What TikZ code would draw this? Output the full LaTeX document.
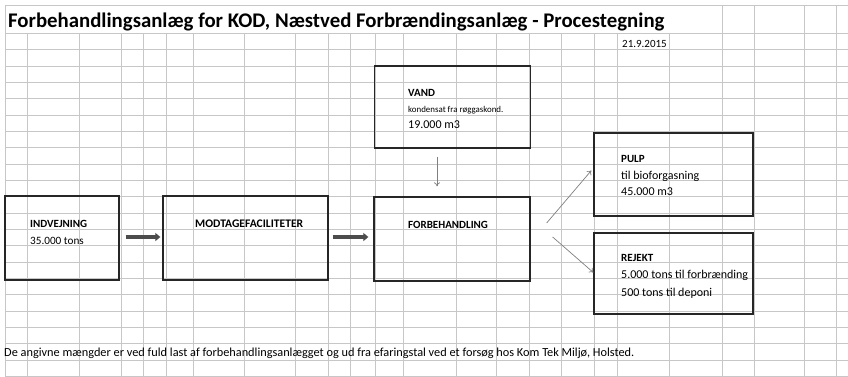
\documentclass[tikz,border=0pt]{standalone}
\usepackage{fontspec}
\setmainfont{Carlito}
\usetikzlibrary{arrows.meta,calc}
\begin{document}
\begin{tikzpicture}[x=1pt,y=-1pt,
  gridline/.style={draw=black!22,line width=0.5pt},
  box/.style={draw=black!85,line width=1.3pt,inner sep=0pt},
  lbl/.style={anchor=base west,inner sep=0pt,font=\fontsize{12}{14}\selectfont},
  blbl/.style={lbl,font=\fontsize{11}{13}\selectfont\bfseries},
  thickarrow/.style={draw=black!70,line width=3.2pt,-{Triangle[length=5pt,width=8pt]}},
  thinarrow/.style={draw=black!50,line width=0.7pt,-{To[length=4pt,width=6pt]}}]
\useasboundingbox (0,0) rectangle (848,376);
\fill[white] (0,0) rectangle (848,376);
% grid rows
\foreach \yy in {5,33,49.5,66,82,98.5,115,131,147.5,164,180,196.5,213,229,245.5,262,278,294.5,311,327,343.5,360,376}
  \draw[gridline] (5,\yy) -- (848,\yy);
% grid columns
\foreach \xx in {27,79,121,143,166,193,244,295,328,350,375,403,456,496,529,561,594,617,669,722,754,804,836}
  \draw[gridline] (\xx,33) -- (\xx,376);
\foreach \xx in {722,754,804,836}
  \draw[gridline] (\xx,5) -- (\xx,33);
\draw[gridline] (5,5) -- (5,376);
% title and date
\node[anchor=base west,inner sep=0pt,font=\fontsize{20.8}{24}\selectfont\bfseries] (title) at (8,27) {Forbehandlingsanlæg for KOD, Næstved Forbrændingsanlæg - Procestegning};
\node[anchor=base west,inner sep=0pt,font=\fontsize{11}{13}\selectfont] (date) at (622,47) {21.9.2015};
% boxes
\node[box,minimum width=114pt,minimum height=84pt] (ind) at (62,238) {};
\node[box,minimum width=165pt,minimum height=84pt] (mod) at (245.5,238) {};
\node[box,minimum width=156pt,minimum height=84pt] (forb) at (452,239) {};
\node[box,minimum width=156pt,minimum height=82pt] (vand) at (452.5,107) {};
\node[box,minimum width=159pt,minimum height=83pt] (pulp) at (673.5,174.5) {};
\node[box,minimum width=159pt,minimum height=81pt] (rej) at (673.5,273.5) {};
% texts
\node[blbl] (t1) at (30,227) {INDVEJNING};
\node[lbl,font=\fontsize{11.2}{13}\selectfont] (t2) at (30,244) {35.000 tons};
\node[blbl,font=\fontsize{11.6}{13}\selectfont\bfseries] (t3) at (195,227) {MODTAGEFACILITETER};
\node[blbl] (t4) at (408,228) {FORBEHANDLING};
\node[blbl] (t5) at (408,96) {VAND};
\node[lbl,font=\fontsize{8.9}{10}\selectfont] (t6) at (408,112) {kondensat fra røggaskond.};
\node[lbl] (t7) at (408,128) {19.000 m3};
\node[blbl] (t8) at (621,162) {PULP};
\node[lbl] (t9) at (621,179) {til bioforgasning};
\node[lbl] (t10) at (621,195) {45.000 m3};
\node[blbl] (t11) at (621,261) {REJEKT};
\node[lbl] (t12) at (621,278) {5.000 tons til forbrænding};
\node[lbl] (t13) at (621,296) {500 tons til deponi};
\node[anchor=base west,inner sep=0pt,font=\fontsize{12.3}{14}\selectfont] (foot) at (4,356) {De angivne mængder er ved fuld last af forbehandlingsanlægget og ud fra efaringstal ved et forsøg hos Kom Tek Miljø, Holsted.};
% arrows
\draw[thickarrow] ($(ind.east |- 0,237)+(6,0)$) -- ($(mod.west |- 0,237)+(-2,0)$);
\draw[thickarrow] ($(mod.east |- 0,237)+(4,0)$) -- ($(forb.west |- 0,237)+(-5,0)$);
\draw[thinarrow] ($(vand.south -| 437,0)+(0,8)$) -- ($(forb.north -| 437,0)+(0,-10)$);
\draw[thinarrow] ($(forb.east)+(16,-16)$) -- ($(pulp.west)+(-2,-4)$);
\draw[thinarrow] ($(forb.east)+(22,-2)$) -- ($(rej.west)+(0,-1)$);
\end{tikzpicture}
\end{document}
